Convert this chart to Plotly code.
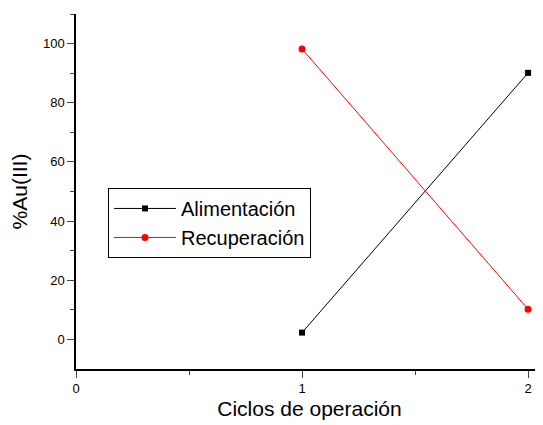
import plotly.graph_objects as go

ciclos = [1, 2]
alimentacion = [2.3, 90.1]
recuperacion = [98.2, 10.2]

FONT = "Liberation Sans, Arial, sans-serif"

fig = go.Figure()
fig.add_trace(
    go.Scatter(
        x=ciclos,
        y=alimentacion,
        mode="lines+markers",
        name="Alimentación",
        line={"color": "black", "width": 1},
        marker={"symbol": "square", "size": 6, "color": "black"},
    )
)
fig.add_trace(
    go.Scatter(
        x=ciclos,
        y=recuperacion,
        mode="lines+markers",
        name="Recuperación",
        line={"color": "red", "width": 1},
        marker={"symbol": "circle", "size": 7, "color": "red"},
    )
)

# page body adds an 8px margin, so the figure is sized to the visible area
fig.update_layout(
    width=535,
    height=417,
    margin={"l": 68, "r": 0, "t": 6, "b": 56, "autoexpand": False},
    paper_bgcolor="white",
    plot_bgcolor="white",
    font={"family": FONT, "color": "black"},
    showlegend=True,
    legend={
        "x": 0.0685,
        "y": 0.51,
        "xanchor": "left",
        "yanchor": "top",
        "bordercolor": "black",
        "borderwidth": 1,
        "bgcolor": "white",
        "font": {"size": 20, "family": FONT},
        "tracegroupgap": 0,
        "itemwidth": 62,
    },
)
fig.update_xaxes(
    range=[0, 2.066],
    tickvals=[0, 1, 2],
    ticks="outside",
    ticklen=7,
    tickwidth=1,
    minor={"tickvals": [0.5, 1.5], "ticks": "outside", "ticklen": 4},
    showline=True,
    linecolor="black",
    linewidth=1.5,
    showgrid=False,
    zeroline=False,
    automargin=False,
    tickfont={"size": 13},
    title={"text": "Ciclos de operación", "font": {"size": 21}, "standoff": 6},
)
fig.update_yaxes(
    range=[-10, 110],
    tickvals=[0, 20, 40, 60, 80, 100],
    ticks="outside",
    ticklen=7,
    tickwidth=1,
    minor={"tickvals": [10, 30, 50, 70, 90, 110], "ticks": "outside", "ticklen": 4},
    showline=True,
    linecolor="black",
    linewidth=1.5,
    showgrid=False,
    zeroline=False,
    automargin=False,
    tickfont={"size": 13},
    title={"text": "%Au(III)", "font": {"size": 21}, "standoff": 10},
)

fig.write_html("out.html")
